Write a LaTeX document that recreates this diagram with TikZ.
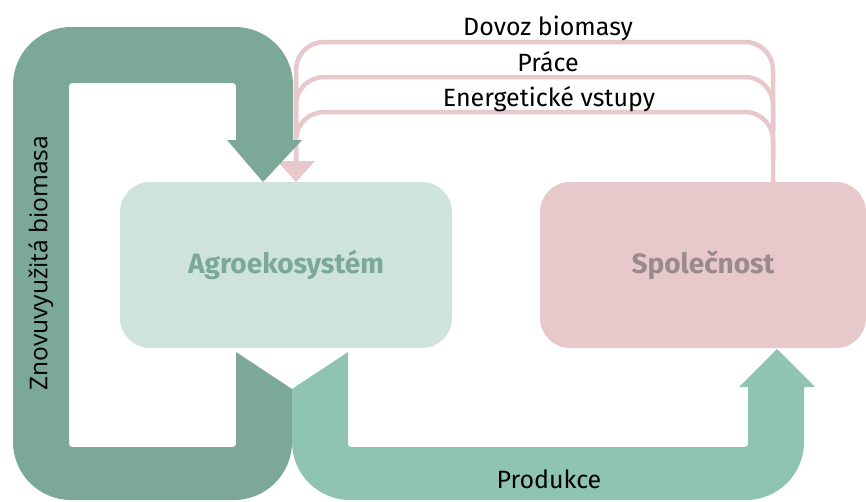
\documentclass[tikz,border=0pt]{standalone}
\usepackage{fontspec}
\setmainfont{Fira Sans}
\newfontfamily\opensans{Open Sans}
\definecolor{darkgreen}{HTML}{7BA898}
\definecolor{lightgreen}{HTML}{8FC4B3}
\definecolor{agrobox}{HTML}{CEE3DB}
\definecolor{pinkbox}{HTML}{E7C9CB}
\definecolor{spoltext}{HTML}{9A8A8D}
\begin{document}
\begin{tikzpicture}[x=1pt,y=-1pt,
  boxnode/.style={rounded corners=30pt,minimum width=332pt,minimum height=166pt,inner sep=0pt,font=\fontsize{28}{32}\selectfont\bfseries},
  pinkline/.style={draw=pinkbox,line width=4.5pt,rounded corners=28pt},
  flowlabel/.style={font=\fontsize{25}{29}\selectfont,inner sep=0pt,anchor=base}
]
\useasboundingbox (0,0) rectangle (866,501);

% boxes
\node[boxnode,fill=agrobox,text=darkgreen] (agro) at (286,265) {Agroekosystém};
\node[boxnode,fill=pinkbox,text=spoltext,minimum width=326pt] (spol) at (703,265) {Společnost};

% pink input lines
\coordinate (sTop) at (773,182);
\coordinate (aIn) at (296,162);
\draw[pinkline] (sTop) -- (773,42) -- (296,42) -- (aIn);
\draw[pinkline] (773,130) -- (773,77) -- (296,77) -- (296,130);
\draw[pinkline] (773,160) -- (773,112) -- (296,112) -- (296,160);
\fill[pinkbox] (277,161) -- (315,161) -- (296,182) -- cycle;

% recycled biomass loop
\fill[darkgreen] (236,352) [rounded corners=3pt] -- (236,447) -- (69,447) -- (69,83) -- (236,83) [sharp corners] -- (236,140) -- (227,140) -- (263,182) -- (302,140) -- (293,140) [rounded corners=58pt] -- (293,27) -- (13,27) -- (13,500) -- (292,500) [sharp corners] -- (292,389) -- cycle;

% production band
\fill[lightgreen] (292,389) -- (348,352) [rounded corners=3pt] -- (348,447) -- (748,447) [sharp corners] -- (748,387) -- (739,387) -- (777,349) -- (815,387) -- (804,387) [rounded corners=58pt] -- (804,500) -- (292,500) [sharp corners] -- cycle;

% labels
\node[flowlabel] (dovoz) at (548,35) {Dovoz biomasy};
\node[flowlabel] (prace) at (548,71) {Práce};
\node[flowlabel] (energ) at (549,106) {Energetické vstupy};
\node[flowlabel] (prod) at (549,488) {Produkce};
\node[font=\opensans\fontsize{24.5}{28}\selectfont,rotate=90,inner sep=0pt] (znov) at (41,263) {Znovuvyužitá biomasa};
\end{tikzpicture}
\end{document}
